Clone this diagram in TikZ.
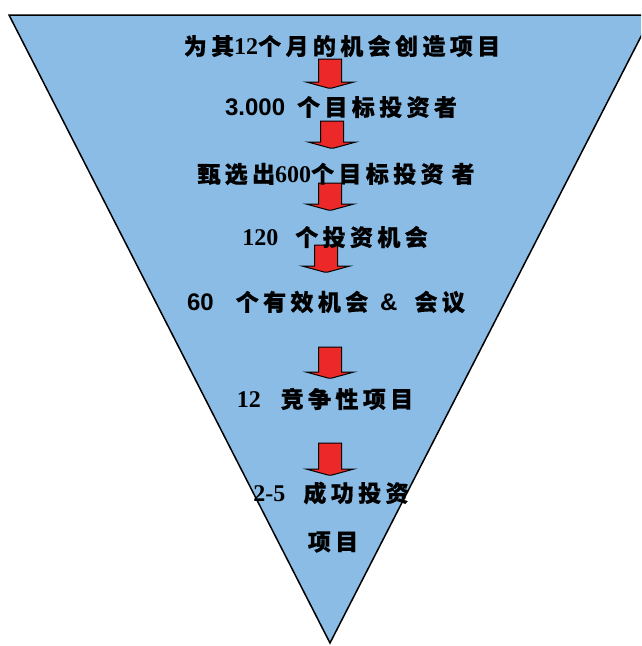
\documentclass[tikz,border=0pt]{standalone}
\usepackage{fontspec}
\setmainfont{Liberation Serif}
\newfontfamily\latsans{Liberation Sans}
\newfontfamily\cjk{Noto Sans CJK SC}[LetterSpace=19,FakeBold=0.6]
\definecolor{funnelblue}{RGB}{139,188,229}
\definecolor{arrowred}{RGB}{236,40,40}
\newcommand\blockdown[3]{%
  \draw[blockarrow] (#1-11.5,#2) -- (#1+11.5,#2) -- (#1+11.5,#3-6) -- (#1+24,#3-6)
    -- (#1+2,#3) -- (#1-2,#3) -- (#1-24,#3-6) -- (#1-11.5,#3-6) -- cycle;}
\newcommand\dg[1]{{\fontsize{24}{25}\selectfont #1}}
\newcommand\dgs[1]{{\latsans\fontsize{24}{25}\selectfont #1}}
\begin{document}
\begin{tikzpicture}[x=1pt,y=-1pt,
  lbl/.style={inner sep=0pt, font=\fontsize{23}{25}\selectfont\bfseries},
  blockarrow/.style={fill=arrowred, draw=black, line width=1pt, line join=miter}]
\useasboundingbox (0,0) rectangle (641,646);
\clip (0,0) rectangle (641,646);
\fill[white] (0,0) rectangle (641,646);
\draw[fill=funnelblue, line width=1.5pt] (9,15) -- (652,15) -- (330,643) -- cycle;
\blockdown{330}{59}{88}
\blockdown{332}{121}{148}
\blockdown{330}{183}{210}
\blockdown{326}{245}{272}
\blockdown{330}{347}{378}
\blockdown{330}{443}{475}
\node[lbl] (t1) at (342,46) {{\cjk 为其}\dg{12}{\cjk 个月的机会创造项目}};
\node[lbl] (t2) at (341,107) {\dgs{3.000}\hspace{12pt}{\cjk 个目标投资者}};
\node[lbl] (t3) at (336,174) {{\cjk 甄选出}\dg{600}{\cjk 个目标投资}\hspace{8pt}{\cjk 者}};
\node[lbl] (t4) at (335,237) {\dg{120}\hspace{17pt}{\cjk 个投资机会}};
\node[lbl] (t5) at (326,302) {\dgs{60}\hspace{22pt}{\cjk 个有效机会}\hspace{12pt}\dgs{\&}\hspace{17pt}{\cjk 会议}};
\node[lbl] (t6) at (325,399) {\dg{12}\hspace{20pt}{\cjk 竞争性项目}};
\node[lbl] (t7) at (331,493) {\dg{2-5}\hspace{18pt}{\cjk 成功投资}};
\node[lbl] (t8) at (333,542) {{\cjk 项目}};
\end{tikzpicture}
\end{document}
